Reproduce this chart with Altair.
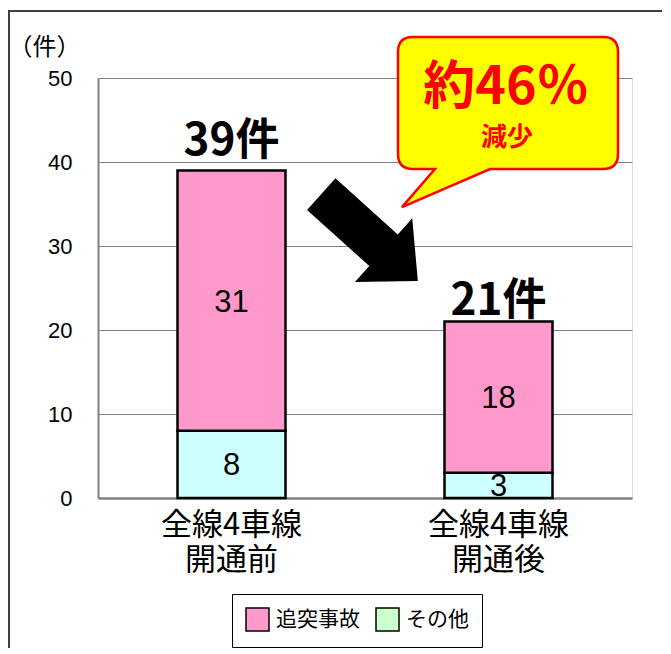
import altair as alt
import pandas as pd

# ---- data ----
categories = ["全線4車線 開通前", "全線4車線 開通後"]
types = ["追突事故", "その他"]
rear_end = [31, 18]
other = [8, 3]

rows = []
for c, r, o in zip(categories, rear_end, other):
    rows.append({"cat": c, "type": "その他", "value": o, "lo": 0, "hi": o})
    rows.append({"cat": c, "type": "追突事故", "value": r, "lo": o, "hi": o + r})
df = pd.DataFrame(rows)
df["mid"] = (df["lo"] + df["hi"]) / 2

tot = pd.DataFrame({"cat": categories,
                    "total": [r + o for r, o in zip(rear_end, other)]})
tot["label"] = tot["total"].astype(str) + "件"

PINK = "#FF99CC"
CYAN = "#CCFFFF"
GREEN = "#CCFFCC"
JP = "Noto Sans CJK JP"

xaxis = alt.Axis(title=None, labelAngle=0, labelExpr="split(datum.label, ' ')",
                 labelFont=JP, labelFontSize=31, labelLineHeight=35,
                 labelPadding=12, labelColor="black", labelBaseline="top",
                 ticks=False, tickSize=0, domainColor="#808080", domainWidth=2.5,
                 grid=False)
yaxis = alt.Axis(title="（件）", values=[0, 10, 20, 30, 40, 50], grid=True,
                 gridColor="#808080", gridWidth=1, domainColor="#808080",
                 domainWidth=2, ticks=False, tickSize=0, labelPadding=26,
                 labelFont="Liberation Sans", labelFontSize=22, labelColor="black",
                 titleAngle=0, titleX=-54, titleY=-31, titleAlign="center",
                 titleBaseline="middle", titleFont=JP, titleFontSize=24,
                 titleFontWeight="normal", titleColor="black")

xscale = alt.Scale(type="band", paddingInner=0, paddingOuter=0)
yscale = alt.Scale(domain=[0, 50], nice=False)


def X(**kw):
    return alt.X("cat:N", sort=categories, scale=xscale, axis=xaxis, **kw)


def Y(field):
    return alt.Y(f"{field}:Q", scale=yscale, axis=yaxis)


base = alt.Chart(df)

# hidden layer that carries the legend colours
legend_bars = base.mark_bar(size=108).encode(
    x=X(), y=Y("lo"), y2="hi",
    color=alt.Color("type:N", scale=alt.Scale(domain=types, range=[PINK, GREEN]),
                    legend=alt.Legend(title=None, orient="none", legendX=134, legendY=516,
                                      direction="horizontal", symbolType="square",
                                      symbolSize=529, symbolStrokeColor="black",
                                      symbolStrokeWidth=1.5, symbolOpacity=1,
                                      labelFont=JP, labelFontSize=21, labelColor="black",
                                      labelOffset=6, columnPadding=13, padding=13,
                                      strokeColor="black", fillColor="white")),
)

bars = base.mark_bar(size=108, stroke="black", strokeWidth=2.5).encode(
    x=X(), y=Y("lo"), y2="hi",
    fill=alt.Fill("type:N", scale=alt.Scale(domain=types, range=[PINK, CYAN]), legend=None),
)

seg_labels = base.mark_text(font="Liberation Sans", fontSize=31, color="black",
                            baseline="middle", dy=2).encode(
    x=X(), y=Y("mid"), text="value:Q")

total_layers = []
for c, d in zip(categories, [-15, -7]):
    total_layers.append(
        alt.Chart(tot).transform_filter(alt.datum.cat == c).mark_text(
            font=JP, fontWeight="bold", fontSize=44, color="black",
            baseline="alphabetic", dy=d).encode(x=X(), y=Y("total"), text="label:N"))

arrow_path = ("M -1 -0.327 L 0.29 -0.327 L 0.29 -0.66 L 1 0 L 0.29 0.66 "
              "L 0.29 0.327 L -1 0.327 Z")
arrow = alt.Chart(pd.DataFrame({"cat": [categories[1]], "v": [31.0]})).mark_point(
    shape=arrow_path, filled=True, fill="black", opacity=1, size=16900, angle=42,
    strokeWidth=0).encode(x=X(bandPosition=0.017), y=Y("v"))

callout_path = ("M -0.864 -0.782 L 0.864 -0.782 Q 1 -0.782 1 -0.646 L 1 0.282 "
                "Q 1 0.418 0.864 0.418 L -0.164 0.418 L -0.964 0.764 L -0.664 0.418 "
                "L -0.864 0.418 Q -1 0.418 -1 0.282 L -1 -0.646 Q -1 -0.782 -0.864 -0.782 Z")
callout = alt.Chart(pd.DataFrame({"cat": [categories[1]], "v": [44.64]})).mark_point(
    shape=callout_path, filled=True, fill="#FFFF00", stroke="#FF0000", strokeWidth=2.5,
    opacity=1, size=48400).encode(x=X(bandPosition=0.5356), y=Y("v"))

callout_t1 = alt.Chart(pd.DataFrame({"cat": [categories[1]], "v": [48.81], "t": ["約46％"]})).mark_text(
    font=JP, fontWeight="bold", fontSize=52, color="#FF0000", baseline="middle",
    align="center").encode(x=X(bandPosition=0.528), y=Y("v"), text="t:N")
callout_t2 = alt.Chart(pd.DataFrame({"cat": [categories[1]], "v": [42.86], "t": ["減少"]})).mark_text(
    font=JP, fontWeight="bold", fontSize=26, color="#FF0000", baseline="middle",
    align="center").encode(x=X(bandPosition=0.532), y=Y("v"), text="t:N")

one = pd.DataFrame({"a": [0]})
frame_left = alt.Chart(one).mark_rule(color="#404040", strokeWidth=2).encode(
    x=alt.value(-89), y=alt.value(-67), y2=alt.value(620))
frame_top = alt.Chart(one).mark_rule(color="#404040", strokeWidth=2).encode(
    y=alt.value(-67), x=alt.value(-90), x2=alt.value(700))

chart = alt.layer(
    legend_bars, bars, seg_labels, *total_layers, arrow, callout, callout_t1, callout_t2,
    frame_left, frame_top,
).properties(
    width=534, height=420,
    padding={"left": 90, "top": 70, "right": 30, "bottom": 150},
    autosize=alt.AutoSizeParams(type="none"),
).configure_view(
    stroke="#808080", strokeWidth=2
).configure(background="white")

chart.save("out.html", embed_options={"renderer": "svg", "actions": False})
